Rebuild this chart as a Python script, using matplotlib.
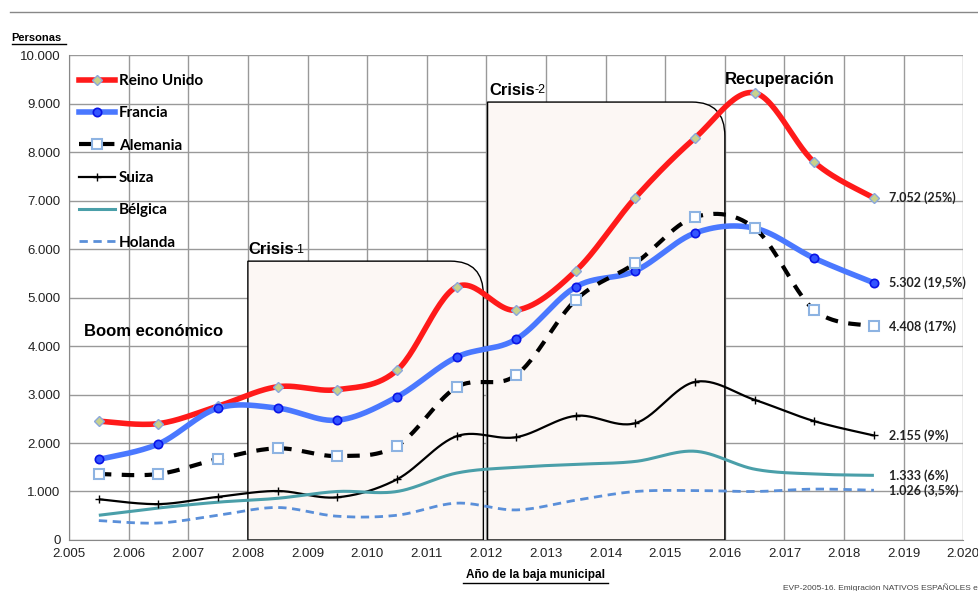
import numpy as np
import matplotlib.pyplot as plt
from matplotlib.path import Path
from matplotlib.patches import PathPatch
from matplotlib.lines import Line2D
from matplotlib.ticker import FuncFormatter

# Años de baja (punto medio de cada año) y personas por país
anios = [2005.5, 2006.5, 2007.5, 2008.5, 2009.5, 2010.5, 2011.5,
         2012.5, 2013.5, 2014.5, 2015.5, 2016.5, 2017.5, 2018.5]
reino_unido = [2450, 2400, 2760, 3160, 3100, 3500, 5220, 4740, 5550, 7060, 8290, 9220, 7790, 7052]
francia = [1660, 1980, 2720, 2720, 2470, 2950, 3770, 4140, 5220, 5550, 6330, 6430, 5810, 5302]
alemania = [1360, 1360, 1670, 1890, 1730, 1940, 3150, 3400, 4950, 5710, 6660, 6430, 4740, 4408]
suiza = [840, 740, 890, 1010, 880, 1250, 2140, 2120, 2560, 2410, 3260, 2890, 2450, 2155]
belgica = [510, 660, 780, 860, 1000, 1000, 1380, 1500, 1560, 1620, 1830, 1460, 1360, 1333]
holanda = [400, 350, 510, 670, 490, 510, 760, 620, 820, 1000, 1020, 1000, 1050, 1026]
etiquetas = ['7.052 (25%)', '5.302 (19,5%)', '4.408 (17%)', '2.155 (9%)', '1.333 (6%)', '1.026 (3,5%)']

plt.rcParams['font.family'] = ['Liberation Sans', 'DejaVu Sans']


def suavizar(x, y, n=30):
    # curva suave tipo Excel (Bezier con tangentes Catmull-Rom)
    x = np.asarray(x, float)
    y = np.asarray(y, float)
    px = np.concatenate([[x[0]], x, [x[-1]]])
    py = np.concatenate([[y[0]], y, [y[-1]]])
    xs, ys = [], []
    t = np.linspace(0, 1, n)
    for i in range(len(x) - 1):
        p0 = np.array([px[i + 1], py[i + 1]])
        p3 = np.array([px[i + 2], py[i + 2]])
        p1 = p0 + (p3 - np.array([px[i], py[i]])) / 6
        p2 = p3 - (np.array([px[i + 3], py[i + 3]]) - p0) / 6
        b = ((1 - t) ** 3)[:, None] * p0 + (3 * (1 - t) ** 2 * t)[:, None] * p1 \
            + (3 * (1 - t) * t ** 2)[:, None] * p2 + (t ** 3)[:, None] * p3
        xs.append(b[:, 0])
        ys.append(b[:, 1])
    return np.concatenate(xs), np.concatenate(ys)


def caja(ax, x0, x1, top, rx, ry):
    # recuadro con la esquina superior derecha redondeada
    verts = [(x0, 0), (x0, top), (x1 - rx, top), (x1, top), (x1, top - ry), (x1, 0), (x0, 0)]
    codes = [Path.MOVETO, Path.LINETO, Path.LINETO, Path.CURVE3, Path.CURVE3, Path.LINETO, Path.CLOSEPOLY]
    ax.add_patch(PathPatch(Path(verts, codes), facecolor='#fcf7f4', edgecolor='black', lw=1, zorder=1))


def titulo(ax, x, y, texto, sub):
    # título con subíndice pegado a su derecha
    t = ax.text(x, y, texto, fontsize=12, fontweight='bold', va='bottom')
    ax.annotate(sub, xy=(1, 0.08), xycoords=t, fontsize=9, va='bottom', ha='left')


fig = plt.figure(figsize=(9.79, 5.91), dpi=100)
ax = fig.add_axes([0.0705, 0.0863, 0.9135, 0.8206])

caja(ax, 2008.0, 2011.95, 5750, 0.55, 700)
caja(ax, 2012.02, 2016.0, 9030, 0.55, 700)

series = [
    ('Reino Unido', reino_unido, dict(color='#ff1a1a', lw=4, ls='-'),
     dict(marker='D', ms=5, mfc='#c8d18c', mec='#8aa7dc', mew=1)),
    ('Francia', francia, dict(color='#4a78ff', lw=4, ls='-'),
     dict(marker='o', ms=6, mfc='#3355ff', mec='#0a14e6', mew=1.2)),
    ('Alemania', alemania, dict(color='black', lw=3, ls=(0, (3, 2.5))),
     dict(marker='s', ms=7, mfc='white', mec='#8db3e2', mew=1.5)),
    ('Suiza', suiza, dict(color='black', lw=1.6, ls='-'),
     dict(marker='+', ms=6, mfc='black', mec='black', mew=1)),
    ('Bélgica', belgica, dict(color='#4a9fa9', lw=2.2, ls='-'), None),
    ('Holanda', holanda, dict(color='#5a8fd9', lw=2, ls=(0, (3, 2))), None),
]

handles = []
for nombre, valores, estilo, marca in series:
    sx, sy = suavizar(anios, valores)
    ax.plot(sx, sy, zorder=3, solid_capstyle='butt', **estilo)
    if marca:
        ax.plot(anios, valores, ls='none', zorder=4, **marca)
        handles.append(Line2D([], [], **estilo, **marca))
    else:
        handles.append(Line2D([], [], **estilo))

for (nombre, valores, estilo, marca), texto in zip(series, etiquetas):
    ax.text(2018.75, valores[-1], texto, fontsize=9, fontweight='bold', color='#222222',
            va='center', ha='left', zorder=5, family=['Lato', 'DejaVu Sans'])

ax.legend(handles, [s[0] for s in series], loc='upper left', frameon=False,
          bbox_to_anchor=(-0.003, 0.986), handlelength=2.4, handletextpad=0.25,
          labelspacing=1.2, borderpad=0.3,
          prop={'family': ['Lato', 'DejaVu Sans'], 'weight': 'bold', 'size': 11})

ax.text(2005.25, 4300, 'Boom económico', fontsize=12, fontweight='bold', va='center')
titulo(ax, 2008.0, 5830, 'Crisis', '-1')
titulo(ax, 2012.05, 9120, 'Crisis', '-2')
ax.text(2016.0, 9500, 'Recuperación', fontsize=12, fontweight='bold', va='center')

ax.set_xlim(2005, 2020)
ax.set_ylim(0, 10000)
ax.set_xticks(np.arange(2005, 2021, 1))
ax.set_yticks(np.arange(0, 10001, 1000))
miles = FuncFormatter(lambda v, p: '0' if v == 0 else f'{int(v):,}'.replace(',', '.'))
ax.xaxis.set_major_formatter(miles)
ax.yaxis.set_major_formatter(miles)
ax.tick_params(labelsize=9.5, length=0, pad=6, colors='#222222')
ax.grid(True, color='#999999', lw=1)
ax.set_axisbelow(True)
for lado in ['top', 'right']:
    ax.spines[lado].set_visible(False)
for lado in ['left', 'bottom']:
    ax.spines[lado].set_color('#888888')

fig.text(0.012, 0.935, 'Personas', fontsize=8, fontweight='bold', ha='left', va='center')
fig.add_artist(Line2D([0.012, 0.067], [0.925, 0.925], color='black', lw=1))
fig.text(0.547, 0.027, 'Año de la baja municipal', fontsize=8.5, fontweight='bold', ha='center', va='center')
fig.add_artist(Line2D([0.473, 0.621], [0.014, 0.014], color='black', lw=1))
fig.add_artist(Line2D([0.01, 1.0], [0.98, 0.98], color='#888888', lw=1))
fig.text(0.8, -0.002, 'EVP-2005-16. Emigración NATIVOS ESPAÑOLES el', fontsize=6, color='#444444',
         ha='left', va='bottom')

fig.savefig('out.png', dpi=100)
